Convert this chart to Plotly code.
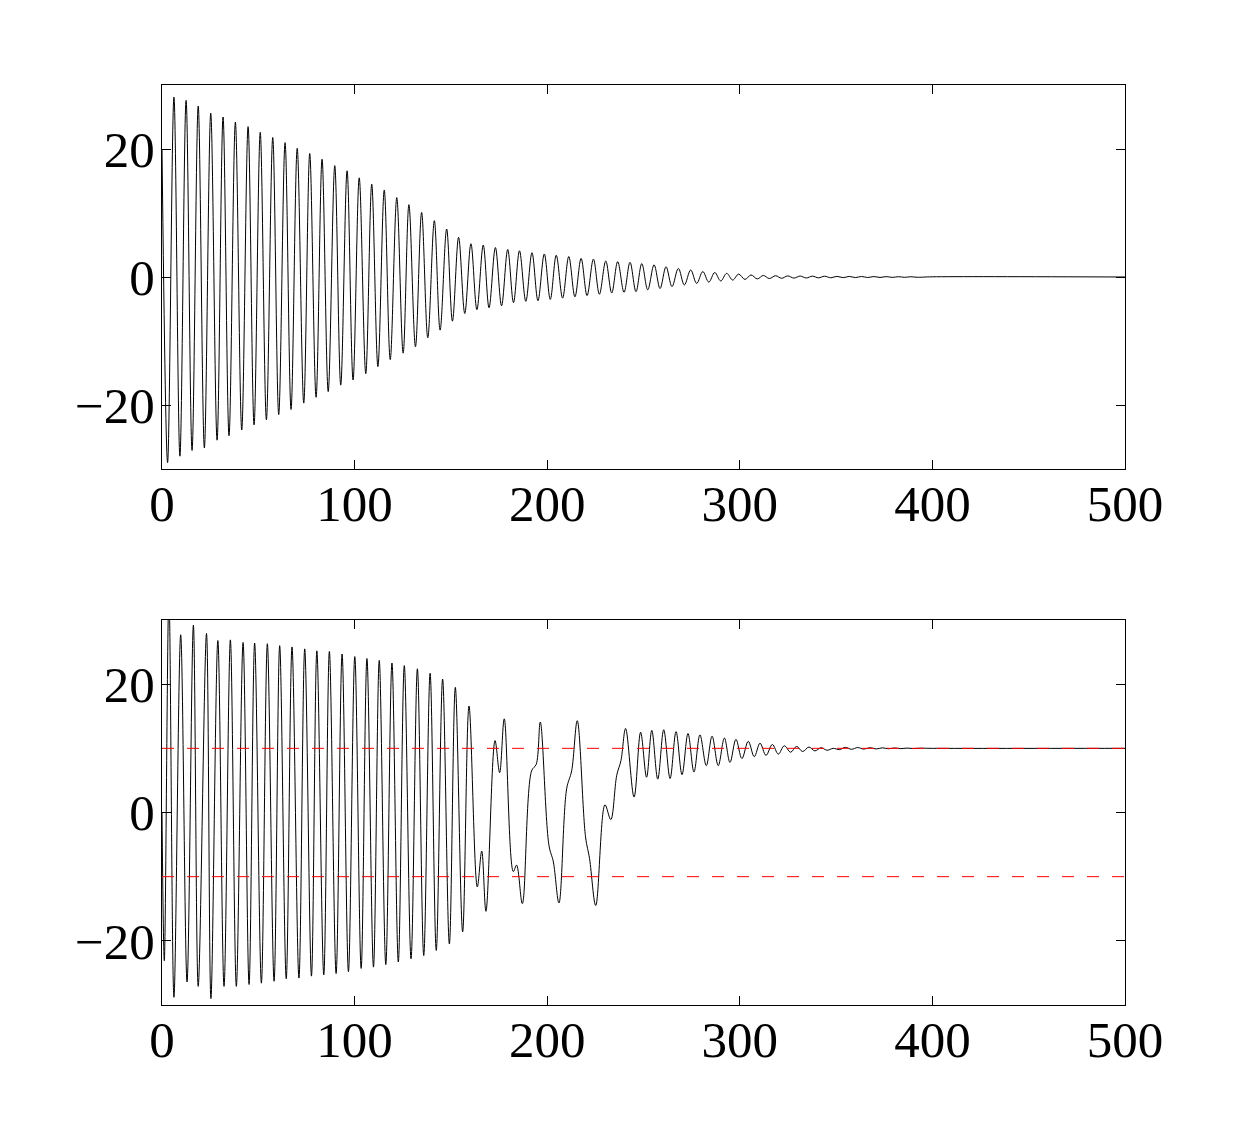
import plotly.graph_objects as go

# ---- Top panel: extrema of the decaying oscillation (time, value) ----
top_t = [0, 2.9, 6.2, 9.3, 12.5, 15.6, 18.8, 22.0, 25.3, 28.6, 31.7, 34.8, 38.1, 41.4, 44.7,
         47.8, 51.0, 54.2, 57.5, 60.6, 63.9, 67.0, 70.2, 73.6, 76.7, 80.0, 83.1, 86.3, 89.7,
         92.8, 96.1, 99.2, 102.4, 105.8, 108.9, 112.1, 115.4, 118.5, 121.9, 125.2, 128.2,
         131.6, 134.8, 138.0, 141.4, 144.4, 147.8, 150.8, 154.0, 157.2, 160.4, 163.5, 166.8,
         169.8, 173.1, 176.3, 179.5, 182.5, 185.6, 188.9, 192.1, 195.2, 198.5, 201.6, 204.7,
         208.0, 211.2, 214.4, 217.6, 220.7, 224.0, 227.1, 230.4, 233.5, 236.6, 239.9, 243.0,
         246.1, 249.1, 252.2, 255.5, 258.6, 261.7, 264.8, 268.1, 271.2, 274.5, 277.6, 280.8,
         283.9, 287.0, 290.1, 293.2, 296.3, 299.4, 302.7, 305.8, 309.1, 312.2, 315.3, 318.6,
         321.7, 324.9, 328.1, 331.3, 334.5, 337.7, 340.9, 344.0, 347.3, 350.4, 353.7, 356.8,
         360.0, 363.2, 366.4, 369.6, 372.8, 376.0, 379.2, 382.4, 385.6, 388.8, 392.0, 400, 500]
top_v = [20, -29.0, 28.1, -28.0, 27.6, -27.1, 26.7, -26.7, 25.6, -25.5, 25.0, -24.8, 24.2, -23.9,
         23.5, -23.1, 22.6, -22.3, 21.8, -21.5, 21.0, -20.7, 20.1, -19.7, 19.3, -18.8, 18.4,
         -17.9, 17.4, -16.9, 16.6, -16.1, 15.5, -15.1, 14.5, -14.0, 13.6, -12.9, 12.4, -11.9,
         11.3, -10.9, 10.1, -9.5, 8.8, -8.3, 7.5, -6.9, 6.2, -5.7, 5.2, -5.1, 5.0, -4.8, 4.6,
         -4.5, 4.3, -4.0, 4.1, -3.8, 3.8, -3.7, 3.6, -3.5, 3.4, -3.3, 3.2, -3.1, 2.9, -2.9, 2.8,
         -2.7, 2.5, -2.5, 2.4, -2.4, 2.3, -2.3, 2.1, -2.0, 1.9, -1.8, 1.6, -1.5, 1.35, -1.25,
         1.1, -1.0, 0.85, -0.8, 0.7, -0.62, 0.57, -0.48, 0.45, -0.38, 0.32, -0.3, 0.24, -0.24,
         0.2, -0.2, 0.17, -0.17, 0.15, -0.15, 0.13, -0.13, 0.12, -0.12, 0.1, -0.1, 0.09, -0.09,
         0.08, -0.08, 0.07, -0.07, 0.06, -0.06, 0.05, -0.05, 0.04, -0.04, 0.03, 0, 0]

# ---- Bottom panel: extrema of the controlled signal (time, value) ----
bot_t = [0, 1.2, 3.6, 6.2, 9.7, 13.0, 16.3, 18.8, 23.1, 25.4, 29.0, 32.2, 35.5, 38.6, 42.1,
         45.2, 48.1, 51.6, 54.7, 58.2, 61.1, 64.5, 67.5, 71.1, 74.1, 77.6, 80.4, 84.0, 86.9,
         90.4, 93.5, 96.8, 100.1, 103.4, 106.4, 109.8, 112.8, 116.2, 119.4, 122.7, 125.8,
         129.3, 132.6, 135.9, 139.2, 142.4, 145.7, 149.2, 152.3, 156.1, 159.4, 163.7, 166.0,
         168.2, 172.9, 175.3, 177.7, 182.4, 184.1, 187.1, 191.9, 194.3, 196.4, 200.9, 203.2,
         206.1, 210.1, 212.7, 215.6, 219.9, 222.0, 225.2, 230.0, 233.0, 236.1, 238.3, 240.7,
         245.1, 248.5, 251.6, 254.3, 257.4, 260.5, 263.8, 266.9, 270.0, 273.1, 276.2, 279.3,
         282.6, 285.6, 288.8, 292.0, 294.9, 298.0, 301.1, 304.4, 307.5, 310.5, 313.6, 316.9,
         320.0, 323.1, 326.4, 329.5, 332.6, 335.9, 339.0, 342.2, 345.3, 348.5, 351.7, 354.8,
         358.0, 361.2, 364.4, 367.6, 370.8, 374.0, 377.2, 380.4, 383.6, 386.8, 390.0, 393.2,
         400, 500]
bot_v = [0, -23.1, 34.0, -28.8, 27.7, -26.4, 29.2, -27.1, 27.9, -29.0, 26.8, -27.1, 26.9, -27.1,
         26.5, -26.8, 26.4, -26.6, 26.3, -26.3, 26.0, -25.9, 25.8, -25.8, 25.5, -25.5, 25.2,
         -25.3, 25.1, -25.1, 24.7, -24.8, 24.3, -24.3, 24.0, -24.1, 23.7, -23.7, 23.3, -23.3,
         22.9, -22.8, 22.4, -22.3, 21.7, -21.5, 20.8, -20.5, 19.5, -18.6, 16.6, -11.6, -6.0,
         -15.4, 11.2, 6.2, 14.6, -9.2, -8.2, -14.2, 6.5, 7.5, 14.1, -5.1, -7.7, -14.1, 3.7, 6.5,
         14.3, -3.8, -7.2, -14.5, 1.2, -1.1, 5.8, 8.1, 13.1, 2.4, 12.5, 5.5, 12.8, 5.2, 12.9,
         5.3, 12.6, 5.9, 12.3, 6.3, 12.1, 7.3, 11.9, 7.3, 11.6, 7.8, 11.4, 8.4, 11.1, 8.7, 10.8,
         8.9, 10.6, 9.1, 10.4, 9.4, 10.3, 9.5, 10.2, 9.6, 10.1, 9.7, 10.0, 9.8, 10.15, 9.85,
         10.12, 9.88, 10.1, 9.9, 10.08, 9.93, 10.06, 9.95, 10.04, 9.97, 10.02, 10, 10]

ref_levels = [10, -10]

x_ticks = [0, 100, 200, 300, 400, 500]
y_ticks = [-20, 0, 20]
y_tick_text = ["\u221220", "0", "20"]

W, H = 1242, 1132
x_dom = [162 / W, 1125 / W]
top_dom = [1 - 469 / H, 1 - 85 / H]
bot_dom = [1 - 1005 / H, 1 - 620 / H]

fig = go.Figure()
fig.add_trace(go.Scatter(x=top_t, y=top_v, mode="lines", xaxis="x", yaxis="y",
                         line=dict(color="black", width=1, shape="spline", smoothing=1.0),
                         showlegend=False))
fig.add_trace(go.Scatter(x=bot_t, y=bot_v, mode="lines", xaxis="x2", yaxis="y2",
                         line=dict(color="black", width=1, shape="spline", smoothing=1.0),
                         showlegend=False))
for lv in ref_levels:
    fig.add_trace(go.Scatter(x=[0, 500], y=[lv, lv], mode="lines", xaxis="x2", yaxis="y2",
                             line=dict(color="#ff0000", width=1, dash="12px,13px"),
                             showlegend=False))

font = dict(family="Liberation Serif, Times New Roman, serif", size=51, color="black")
axis_common = dict(showline=True, linecolor="black", linewidth=1, mirror="ticks",
                   ticks="inside", ticklen=9, tickcolor="black", tickwidth=1,
                   showgrid=False, zeroline=False, tickfont=font, automargin=False)

fig.update_layout(
    width=W, height=H, margin=dict(l=0, r=0, t=0, b=0),
    paper_bgcolor="white", plot_bgcolor="white",
    xaxis=dict(domain=x_dom, range=[0, 500], tickvals=x_ticks, anchor="y",
               ticklabelstandoff=-10, **axis_common),
    yaxis=dict(domain=top_dom, range=[-30, 30], tickvals=y_ticks, ticktext=y_tick_text,
               anchor="x", ticklabelstandoff=-4, **axis_common),
    xaxis2=dict(domain=x_dom, range=[0, 500], tickvals=x_ticks, anchor="y2",
                ticklabelstandoff=-10, **axis_common),
    yaxis2=dict(domain=bot_dom, range=[-30, 30], tickvals=y_ticks, ticktext=y_tick_text,
                anchor="x2", ticklabelstandoff=-4, **axis_common),
)

fig.write_html("out.html")
